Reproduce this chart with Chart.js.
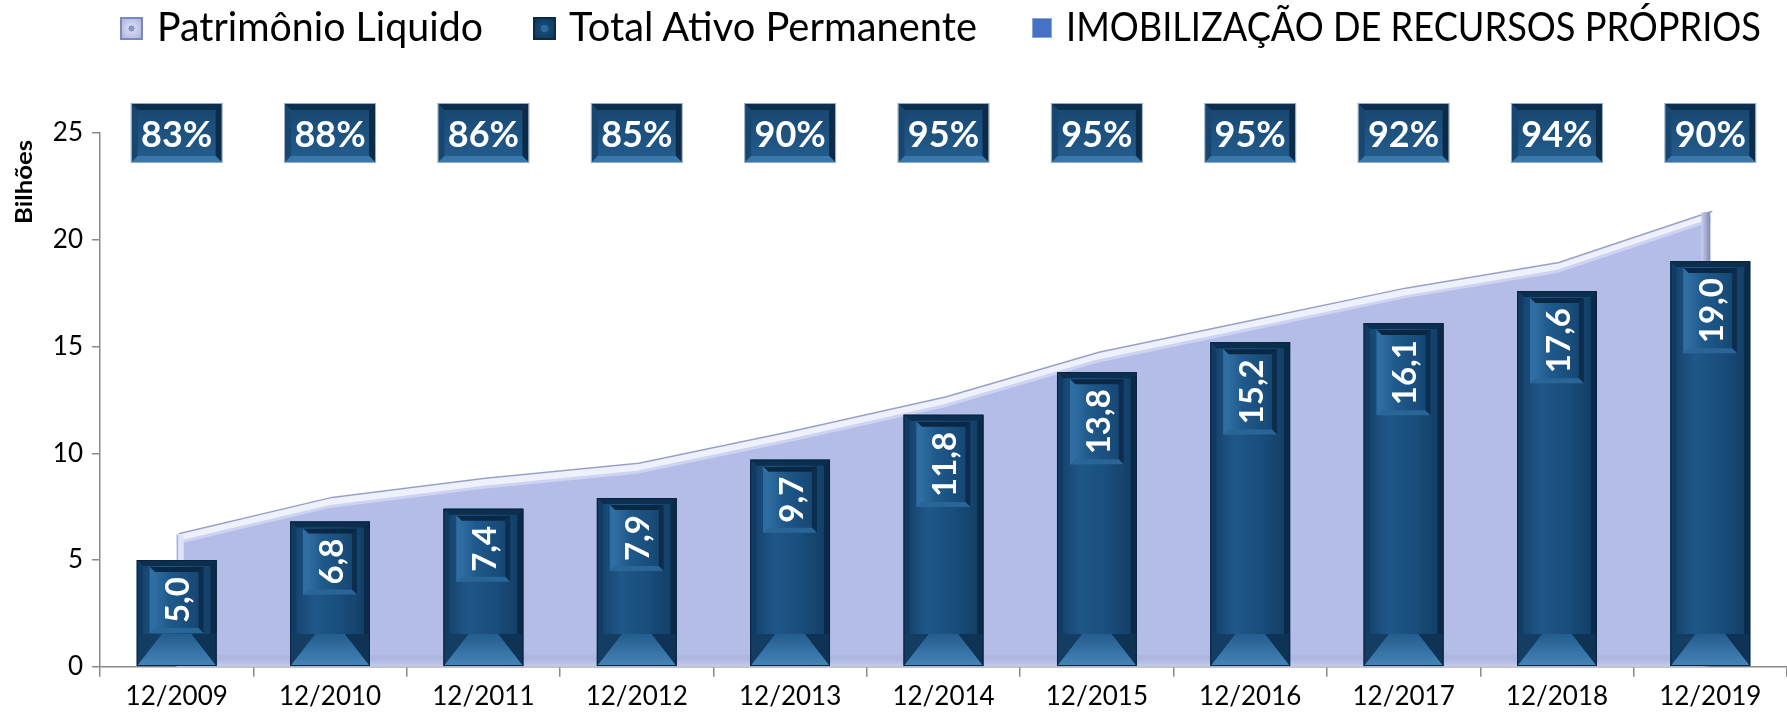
<!DOCTYPE html>
<html>
<head>
<meta charset="utf-8">
<script src="https://cdn.jsdelivr.net/npm/chart.js@4.4.1/dist/chart.umd.min.js"></script>
<style>
  html, body { margin: 0; padding: 0; background: #fff; }
  #wrap { position: relative; width: 1787px; height: 725px; }
  #legend { position: absolute; left: 0; top: 0; width: 1787px; height: 56px; font-family: Lato, sans-serif; font-size: 40px; color: #000; }
  .mark { position: absolute; box-sizing: border-box; }
  .txt { position: absolute; top: 2px; line-height: 48px; white-space: nowrap; transform-origin: 0 50%; }
</style>
</head>
<body>
<div id="wrap">
  <canvas id="chart" width="1787" height="725"></canvas>
  <div id="legend"></div>
</div>
<script>
const categories = ["12/2009", "12/2010", "12/2011", "12/2012", "12/2013", "12/2014", "12/2015", "12/2016", "12/2017", "12/2018", "12/2019"];
const ativoPermanente = [5.0, 6.8, 7.4, 7.9, 9.7, 11.8, 13.8, 15.2, 16.1, 17.6, 19.0];
const patrimonioLiquido = [6.0, 7.7, 8.6, 9.3, 10.8, 12.4, 14.5, 16.0, 17.5, 18.7, 21.1];
const imobilizacao = [83, 88, 86, 85, 90, 95, 95, 95, 92, 94, 90];
const yTicks = [0, 5, 10, 15, 20, 25];
const seriesNames = ["Patrimônio Liquido", "Total Ativo Permanente", "IMOBILIZAÇÃO DE RECURSOS PRÓPRIOS"];
const axisTitle = "Bilhões";

const fmt = (v) => v.toFixed(1).replace(".", ",");

function poly(ctx, pts, fill) {
  ctx.beginPath();
  ctx.moveTo(pts[0][0], pts[0][1]);
  for (let i = 1; i < pts.length; i++) ctx.lineTo(pts[i][0], pts[i][1]);
  ctx.closePath();
  ctx.fillStyle = fill;
  ctx.fill();
}

// bevelled box: faces top / left / right / bottom
function bevelBox(ctx, x0, y0, x1, y1, s, c) {
  poly(ctx, [[x0, y0], [x1, y0], [x1 - s, y0 + s], [x0 + s, y0 + s]], c.top);
  poly(ctx, [[x0, y0], [x0 + s, y0 + s], [x0 + s, y1 - s], [x0, y1]], c.left);
  poly(ctx, [[x1, y0], [x1, y1], [x1 - s, y1 - s], [x1 - s, y0 + s]], c.right);
  poly(ctx, [[x0, y1], [x1, y1], [x1 - s, y1 - s], [x0 + s, y1 - s]], c.bottom);
}

const decor = {
  id: "decor",
  afterDatasetDraw(chart, args) {
    const ctx = chart.ctx;
    const yScale = chart.scales.y;
    const base = yScale.getPixelForValue(0);

    if (args.index === 0) {
      const pts = args.meta.data;
      ctx.save();
      // back edge of the 3d area
      ctx.beginPath();
      pts.forEach((p, i) => (i ? ctx.lineTo(p.x + 2, p.y - 5) : ctx.moveTo(p.x + 2, p.y - 5)));
      ctx.strokeStyle = "#98a0ca";
      ctx.lineWidth = 1.5;
      ctx.stroke();
      ctx.beginPath();
      pts.forEach((p, i) => (i ? ctx.lineTo(p.x, p.y + 4) : ctx.moveTo(p.x, p.y + 4)));
      ctx.strokeStyle = "#cdd4f3";
      ctx.lineWidth = 3;
      ctx.stroke();
      // side faces
      const first = pts[0], last = pts[pts.length - 1];
      ctx.fillStyle = "#dfe3f7";
      ctx.fillRect(first.x, first.y - 4, 7, base - first.y + 4);
      ctx.fillStyle = "#aab3dc";
      ctx.fillRect(first.x, first.y - 4, 1.5, base - first.y + 4);
      const g = ctx.createLinearGradient(last.x - 9, 0, last.x, 0);
      g.addColorStop(0, "#c9cfee");
      g.addColorStop(1, "#7f88b4");
      ctx.fillStyle = g;
      ctx.fillRect(last.x - 9, last.y - 4, 9, base - last.y + 4);
      // floor edge
      const fg = ctx.createLinearGradient(0, base - 12, 0, base);
      fg.addColorStop(0, "rgba(150,160,205,0.2)");
      fg.addColorStop(1, "rgba(205,210,238,0.9)");
      ctx.fillStyle = fg;
      ctx.fillRect(first.x, base - 12, last.x - first.x - 9, 12);
      ctx.restore();
    }

    if (args.index === 1) {
      ctx.save();
      args.meta.data.forEach((bar, i) => {
        const x0 = bar.x - bar.width / 2, x1 = bar.x + bar.width / 2;
        const y0 = bar.y, y1 = bar.base;
        const body = ctx.createLinearGradient(x0, 0, x1, 0);
        body.addColorStop(0, "#133e66");
        body.addColorStop(0.3, "#1f5789");
        body.addColorStop(0.6, "#1a4f7e");
        body.addColorStop(1, "#123c63");
        ctx.fillStyle = body;
        ctx.fillRect(x0, y0, x1 - x0, y1 - y0);
        // bottom face
        const h = 32, b = 25;
        const bg = ctx.createLinearGradient(0, y1 - h, 0, y1);
        bg.addColorStop(0, "#245d8f");
        bg.addColorStop(1, "#4684b7");
        poly(ctx, [[x0, y1], [x1, y1], [x1 - b, y1 - h], [x0 + b, y1 - h]], bg);
        poly(ctx, [[x0, y1], [x0, y1 - h], [x0 + b, y1 - h]], "#143d64");
        poly(ctx, [[x1, y1], [x1, y1 - h], [x1 - b, y1 - h]], "#0f3355");
        // side and top faces
        poly(ctx, [[x0, y0], [x1, y0], [x1 - 6, y0 + 6], [x0 + 6, y0 + 6]], "#0c2f50");
        poly(ctx, [[x0, y0], [x0 + 6, y0 + 6], [x0 + 6, y1 - h], [x0, y1 - h]], "#123b63");
        poly(ctx, [[x1, y0], [x1 - 6, y0 + 6], [x1 - 6, y1 - h], [x1, y1 - h]], "#0b2a48");
        ctx.strokeStyle = "#0a243e";
        ctx.lineWidth = 1;
        ctx.strokeRect(x0 + 0.5, y0 + 0.5, x1 - x0 - 1, y1 - y0 - 1);

        // value label box
        const txt = fmt(ativoPermanente[i]);
        ctx.font = "bold 33px Lato, sans-serif";
        const tw = ctx.measureText(txt).width;
        const bx0 = x0 + 13, bx1 = x1 - 13, by0 = y0 + 7, by1 = by0 + tw + 20;
        const ig = ctx.createLinearGradient(bx0, 0, bx1, 0);
        ig.addColorStop(0, "#3574aa");
        ig.addColorStop(0.35, "#1f5a8c");
        ig.addColorStop(1, "#15446f");
        ctx.fillStyle = ig;
        ctx.fillRect(bx0, by0, bx1 - bx0, by1 - by0);
        bevelBox(ctx, bx0, by0, bx1, by1, 5, { top: "#0a2744", left: "#2f6ea3", right: "#0c2d4d", bottom: "#2a6598" });
        ctx.translate((bx0 + bx1) / 2, (by0 + by1) / 2);
        ctx.rotate(-Math.PI / 2);
        ctx.fillStyle = "#ffffff";
        ctx.textAlign = "center";
        ctx.textBaseline = "middle";
        ctx.fillText(txt, 0, 2);
        ctx.setTransform(1, 0, 0, 1, 0, 0);
      });
      ctx.restore();
    }
  },
  afterDraw(chart) {
    const ctx = chart.ctx;
    const xScale = chart.scales.x, yScale = chart.scales.y;
    const cy = yScale.getPixelForValue(yScale.max);
    ctx.save();
    imobilizacao.forEach((v, i) => {
      const cx = xScale.getPixelForValue(i);
      const x0 = cx - 45, x1 = cx + 45, y0 = cy - 29, y1 = cy + 29;
      const g = ctx.createLinearGradient(0, y0, 0, y1);
      g.addColorStop(0, "#17466f");
      g.addColorStop(1, "#245d8e");
      ctx.fillStyle = g;
      ctx.fillRect(x0, y0, x1 - x0, y1 - y0);
      bevelBox(ctx, x0, y0, x1, y1, 6, { top: "#0d2f4f", left: "#174670", right: "#0c2b49", bottom: "#3a78ac" });
      ctx.strokeStyle = "#97a9bc";
      ctx.lineWidth = 1;
      ctx.strokeRect(x0 - 0.5, y0 - 0.5, x1 - x0 + 1, y1 - y0 + 1);
      ctx.font = "bold 36px Lato, sans-serif";
      ctx.fillStyle = "#ffffff";
      ctx.textAlign = "center";
      ctx.textBaseline = "middle";
      ctx.fillText(v + "%", cx, cy + 2);
    });
    // y axis title, stretched along its length like the picture
    ctx.translate(25, 182);
    ctx.rotate(-Math.PI / 2);
    ctx.scale(1.12, 1);
    ctx.font = "bold 23px Lato, sans-serif";
    ctx.fillStyle = "#000";
    ctx.textAlign = "center";
    ctx.textBaseline = "middle";
    ctx.fillText(axisTitle, 0, 0);
    ctx.restore();
  },
};

const chart = new Chart(document.getElementById("chart"), {
  type: "bar",
  data: {
    labels: categories,
    datasets: [
      {
        type: "line",
        label: seriesNames[0],
        data: patrimonioLiquido,
        fill: "origin",
        backgroundColor: "#b3bde7",
        borderColor: "#eef0fa",
        borderWidth: 8,
        pointRadius: 0,
        tension: 0,
        order: 2,
      },
      {
        type: "bar",
        label: seriesNames[1],
        data: ativoPermanente,
        backgroundColor: "#1a4b77",
        barPercentage: 0.52,
        categoryPercentage: 1,
        order: 1,
      },
      {
        type: "line",
        label: seriesNames[2],
        data: imobilizacao,
        yAxisID: "y2",
        showLine: false,
        pointRadius: 0,
        backgroundColor: "#4472c4",
        borderColor: "#4472c4",
        order: 0,
      },
    ],
  },
  options: {
    responsive: false,
    devicePixelRatio: 1,
    animation: false,
    layout: { padding: { top: 133, right: 0, bottom: 9, left: 0 } },
    plugins: {
      legend: { display: false },
      tooltip: { enabled: false },
    },
    scales: {
      x: {
        offset: true,
        border: { color: "#8a8a8a", width: 1.5 },
        grid: { display: true, drawOnChartArea: false, tickLength: 10, color: "#8a8a8a", lineWidth: 1.5, offset: true },
        ticks: { color: "#000", font: { family: "Lato, sans-serif", size: 26 }, padding: 4, maxRotation: 0 },
      },
      y: {
        min: 0,
        max: 25,
        afterFit: (scale) => { scale.width = 100; },
        afterBuildTicks: (scale) => { scale.ticks = yTicks.map((v) => ({ value: v })); },
        border: { color: "#8a8a8a", width: 1.5 },
        grid: { display: true, drawOnChartArea: false, tickLength: 8, color: "#8a8a8a", lineWidth: 1.5 },
        ticks: { color: "#000", font: { family: "Lato, sans-serif", size: 26 }, padding: 9 },
      },
      y2: { display: false, min: 0, max: 100 },
    },
  },
  plugins: [decor],
});

// legend as html text: marker box, then the name fitted to its width in the picture
const markLeft = [120, 533, 1032];
const markSize = [23, 23, 20];
const textLeft = [157, 569, 1066];
const textWidth = [326, 408, 695];
const markStyles = [
  "background: radial-gradient(circle,#8c95c4 0 22%,#d3d8f0 24%,#aab3dd 100%); border: 2px solid #7d87bb;",
  "background: radial-gradient(circle,#2c6a9f 0 25%,#174a76 30%,#0f355a 100%); border: 2px solid #0b2a47;",
  "background: #4472c4; border: 1px solid #8aa6dc;",
];
const legendEl = document.getElementById("legend");
seriesNames.forEach((name, i) => {
  const m = document.createElement("div");
  m.className = "mark";
  m.style.cssText = markStyles[i] + `left:${markLeft[i]}px;top:${28 - markSize[i] / 2}px;width:${markSize[i]}px;height:${markSize[i]}px;`;
  const t = document.createElement("div");
  t.className = "txt";
  t.style.left = textLeft[i] + "px";
  t.textContent = name;
  legendEl.appendChild(m);
  legendEl.appendChild(t);
  t.style.transform = `scaleX(${textWidth[i] / t.getBoundingClientRect().width})`;
});
</script>
</body>
</html>
